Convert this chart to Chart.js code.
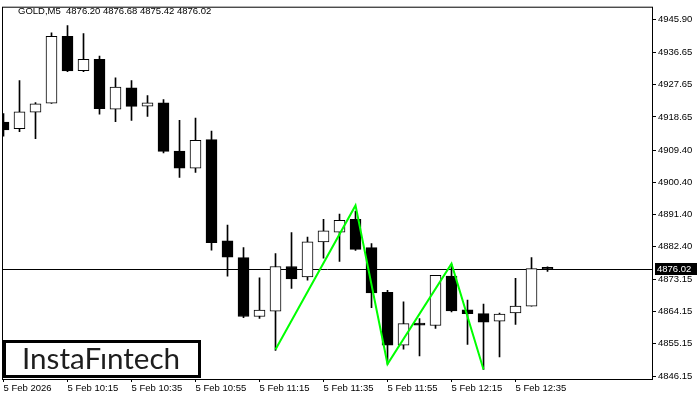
<!DOCTYPE html>
<html>
<head>
<meta charset="utf-8">
<script src="https://cdn.jsdelivr.net/npm/chart.js@4.4.1/dist/chart.umd.min.js"></script>
<style>
  html, body { margin: 0; padding: 0; background: #fff; }
</style>
</head>
<body>
<canvas id="chart" width="700" height="400"></canvas>
<script>
// GOLD M5 candles
const symbol = 'GOLD,M5';
const opens  = [4917.2, 4915.4, 4920.0, 4922.5, 4941.2, 4931.6, 4934.8, 4920.8, 4926.8, 4921.7,
                4922.6, 4909.1, 4904.3, 4912.3, 4884.0, 4879.3, 4862.8, 4864.3, 4876.8, 4873.9,
                4883.7, 4886.4, 4890.0, 4882.1, 4869.6, 4854.8, 4861.0, 4860.3, 4874.1, 4864.7,
                4863.6, 4861.5, 4863.8, 4865.7, 4876.20];
const highs  = [4919.6, 4928.8, 4922.7, 4942.2, 4944.2, 4942.0, 4935.7, 4929.6, 4928.8, 4924.6,
                4923.5, 4917.7, 4918.3, 4914.7, 4888.4, 4882.1, 4873.6, 4880.4, 4886.3, 4885.0,
                4890.0, 4891.5, 4892.3, 4883.2, 4870.1, 4866.9, 4862.2, 4874.3, 4877.4, 4867.4,
                4866.3, 4863.8, 4873.5, 4879.3, 4876.68];
const lows   = [4913.3, 4914.5, 4912.6, 4922.4, 4931.3, 4931.3, 4919.4, 4917.3, 4917.7, 4918.8,
                4908.6, 4901.7, 4903.1, 4881.4, 4874.1, 4862.5, 4862.3, 4853.3, 4870.7, 4873.0,
                4879.1, 4878.2, 4881.3, 4865.3, 4849.5, 4853.7, 4851.8, 4859.5, 4864.1, 4855.0,
                4848.0, 4851.5, 4860.6, 4865.7, 4875.42];
const closes = [4915.0, 4920.1, 4922.3, 4941.2, 4931.5, 4934.8, 4921.0, 4927.0, 4921.6, 4922.6,
                4909.0, 4904.3, 4912.1, 4883.5, 4879.4, 4862.8, 4864.6, 4876.8, 4873.3, 4883.7,
                4886.8, 4889.7, 4881.6, 4869.4, 4854.8, 4860.8, 4860.4, 4874.3, 4864.4, 4863.6,
                4861.2, 4863.5, 4865.7, 4876.2, 4876.02];

const yTicks = [4945.90, 4936.65, 4927.65, 4918.65, 4909.40, 4900.40,
                4891.40, 4882.40, 4873.15, 4864.15, 4855.15, 4846.15];
const timeTicks  = [0, 4, 8, 12, 16, 20, 24, 28, 32];
const timeLabels = ['5 Feb 2026', '5 Feb 10:15', '5 Feb 10:35', '5 Feb 10:55', '5 Feb 11:15',
                    '5 Feb 11:35', '5 Feb 11:55', '5 Feb 12:15', '5 Feb 12:35'];

// green zigzag (pattern) pivots: bar index and price
const patternBars   = [17, 22, 24, 28, 30];
const patternPrices = [4853.6, 4893.9, 4849.5, 4877.6, 4848.0];

const FONT = '"Liberation Sans", Arial, sans-serif';
const last = closes.length - 1;
const title = symbol + '  ' + [opens[last], highs[last], lows[last], closes[last]]
  .map(v => v.toFixed(2)).join(' ');

const bodies = opens.map((o, i) => ({ x: i, y: [o, closes[i]] }));
const wicks  = lows.map((l, i) => ({ x: i, y: [l, highs[i]] }));
const bodyFill = opens.map((o, i) => closes[i] >= o ? '#fff' : '#000');
const pattern = patternBars.map((b, i) => ({ x: b, y: patternPrices[i] }));

const overlay = {
  id: 'overlay',
  beforeDatasetsDraw(chart) {
    const { ctx, chartArea: a, scales: { y } } = chart;
    const py = Math.round(y.getPixelForValue(closes[last])) + 0.5;
    ctx.save();
    ctx.strokeStyle = '#000';
    ctx.lineWidth = 1;
    ctx.beginPath();
    ctx.moveTo(a.left, py);
    ctx.lineTo(a.right, py);
    ctx.stroke();
    ctx.restore();
  },
  afterDraw(chart) {
    const { ctx, chartArea: a, scales: { y } } = chart;
    const py = Math.round(y.getPixelForValue(closes[last])) + 0.5;
    ctx.save();
    // frame
    ctx.strokeStyle = '#000';
    ctx.lineWidth = 1;
    ctx.strokeRect(a.left - 0.5, a.top - 0.5, a.right - a.left + 1, a.bottom - a.top + 1);
    // price tag
    ctx.fillStyle = '#000';
    ctx.fillRect(a.right + 3, py - 6.5, 42, 12);
    ctx.fillStyle = '#fff';
    ctx.font = '9.5px ' + FONT;
    ctx.textBaseline = 'middle';
    ctx.fillText(closes[last].toFixed(2), a.right + 5, py);
    // title
    ctx.fillStyle = '#000';
    ctx.fillText(title, 18, 11);
    // logo
    ctx.fillStyle = '#fff';
    ctx.fillRect(3, 340, 198, 38);
    ctx.lineWidth = 3;
    ctx.strokeRect(4.5, 341.5, 195, 35);
    ctx.fillStyle = '#1e1e1e';
    ctx.font = '27px Lato';
    const w = ctx.measureText('InstaFıntech').width;
    const size = 27 * 158 / w;
    ctx.font = size.toFixed(1) + 'px Lato';
    ctx.textBaseline = 'alphabetic';
    ctx.fillText('InstaFıntech', 22, 369);
    ctx.restore();
  }
};

new Chart(document.getElementById('chart'), {
  type: 'bar',
  data: {
    datasets: [
      { type: 'line', data: pattern, borderColor: '#00ff00', borderWidth: 2,
        pointRadius: 0, tension: 0, order: 0 },
      { data: bodies, backgroundColor: bodyFill, borderColor: '#000', borderWidth: 1,
        borderSkipped: false, barThickness: 11, minBarLength: 2, grouped: false, order: 1 },
      { data: wicks, backgroundColor: '#000', borderWidth: 0,
        barThickness: 1, grouped: false, order: 2 }
    ]
  },
  options: {
    animation: false,
    responsive: false,
    devicePixelRatio: 1,
    layout: { padding: { left: 3, top: 3, right: 0, bottom: 0 } },
    plugins: { legend: { display: false }, tooltip: { enabled: false } },
    scales: {
      x: {
        type: 'linear',
        min: -0.03125,
        max: 40.53,
        offset: false,
        border: { display: false },
        grid: { offset: false, drawOnChartArea: false, drawTicks: true, tickLength: 3, color: '#000' },
        ticks: {
          align: 'start', autoSkip: false, maxRotation: 0, padding: 1, color: '#000',
          font: { family: FONT, size: 9.5 },
          callback: (v, i) => timeLabels[i]
        },
        afterBuildTicks: s => { s.ticks = timeTicks.map(v => ({ value: v })); },
        afterFit: s => { s.height = 21; }
      },
      y: {
        position: 'right',
        min: 4845.32,
        max: 4949.22,
        border: { display: false },
        grid: { drawOnChartArea: false, drawTicks: true, tickLength: 4, color: '#000' },
        ticks: {
          autoSkip: false, padding: 2, color: '#000',
          font: { family: FONT, size: 9.5 },
          callback: v => v.toFixed(2)
        },
        afterBuildTicks: s => { s.ticks = yTicks.map(v => ({ value: v })); },
        afterFit: s => { s.width = 48; }
      }
    }
  },
  plugins: [overlay]
});
</script>
</body>
</html>
